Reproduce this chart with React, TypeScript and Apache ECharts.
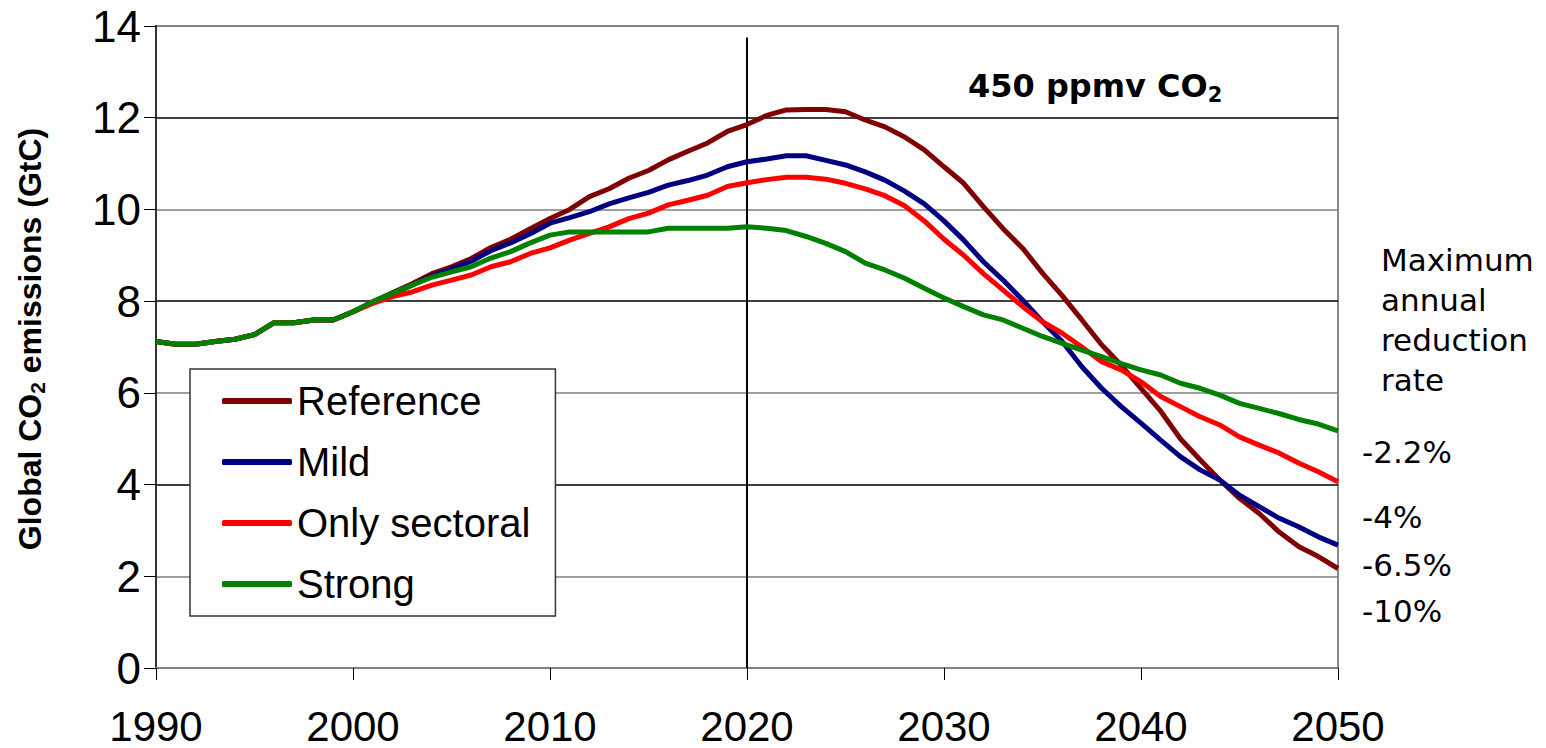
import React, { useEffect, useRef } from "react";
import * as echarts from "echarts";

const years = [
  1990, 1991, 1992, 1993, 1994, 1995, 1996, 1997, 1998, 1999,
  2000, 2001, 2002, 2003, 2004, 2005, 2006, 2007, 2008, 2009,
  2010, 2011, 2012, 2013, 2014, 2015, 2016, 2017, 2018, 2019,
  2020, 2021, 2022, 2023, 2024, 2025, 2026, 2027, 2028, 2029,
  2030, 2031, 2032, 2033, 2034, 2035, 2036, 2037, 2038, 2039,
  2040, 2041, 2042, 2043, 2044, 2045, 2046, 2047, 2048, 2049, 2050,
];

const reference = [
  7.12, 7.06, 7.06, 7.12, 7.17, 7.27, 7.53, 7.53, 7.59, 7.59,
  7.77, 7.98, 8.18, 8.38, 8.6, 8.75, 8.93, 9.17, 9.35, 9.58,
  9.8, 10.0, 10.28, 10.45, 10.68, 10.85, 11.08, 11.27, 11.45, 11.7,
  11.85, 12.05, 12.17, 12.18, 12.18, 12.13, 11.95, 11.8, 11.58, 11.3,
  10.93, 10.57, 10.06, 9.58, 9.15, 8.61, 8.12, 7.59, 7.05, 6.6,
  6.1, 5.6, 5.0, 4.54, 4.1, 3.7, 3.37, 2.97, 2.65, 2.43, 2.17,
];

const mild = [
  7.12, 7.06, 7.06, 7.12, 7.17, 7.27, 7.53, 7.53, 7.59, 7.59,
  7.77, 7.97, 8.17, 8.35, 8.55, 8.7, 8.87, 9.1, 9.27, 9.47,
  9.7, 9.82, 9.95, 10.12, 10.25, 10.37, 10.53, 10.63, 10.75, 10.93,
  11.04, 11.1, 11.17, 11.17, 11.07, 10.97, 10.82, 10.64, 10.4, 10.12,
  9.75, 9.33, 8.86, 8.46, 8.02, 7.55, 7.12, 6.57, 6.1, 5.7,
  5.34, 4.97, 4.61, 4.32, 4.1, 3.77, 3.52, 3.27, 3.08, 2.86, 2.68,
];

const onlySectoral = [
  7.12, 7.06, 7.06, 7.12, 7.17, 7.27, 7.53, 7.53, 7.59, 7.59,
  7.77, 7.95, 8.1, 8.2, 8.35, 8.46, 8.57, 8.75, 8.86, 9.04,
  9.16, 9.33, 9.48, 9.62, 9.8, 9.92, 10.1, 10.2, 10.31, 10.5,
  10.58, 10.65, 10.7, 10.7, 10.66, 10.57, 10.45, 10.3, 10.08, 9.75,
  9.35, 9.0, 8.6, 8.24, 7.88, 7.55, 7.3, 7.0, 6.68, 6.5,
  6.24, 5.92, 5.7, 5.48, 5.3, 5.04, 4.86, 4.69, 4.47, 4.28, 4.06,
];

const strong = [
  7.12, 7.06, 7.06, 7.12, 7.17, 7.27, 7.53, 7.53, 7.59, 7.59,
  7.77, 7.99, 8.17, 8.35, 8.52, 8.64, 8.75, 8.94, 9.08, 9.27,
  9.44, 9.51, 9.51, 9.51, 9.51, 9.51, 9.59, 9.59, 9.59, 9.59,
  9.62, 9.59, 9.54, 9.41, 9.26, 9.08, 8.83, 8.68, 8.5, 8.28,
  8.07, 7.88, 7.7, 7.59, 7.41, 7.23, 7.08, 6.93, 6.79, 6.64,
  6.5, 6.39, 6.21, 6.1, 5.95, 5.77, 5.66, 5.55, 5.42, 5.32, 5.17,
];

const seriesNames = ["Reference", "Mild", "Only sectoral", "Strong"];
const seriesColors = ["#800000", "#000080", "#ff0000", "#008000"];
const seriesValues = [reference, mild, onlySectoral, strong];

const rateTitle = "Maximum\nannual\nreduction\nrate";
const rateLabels = ["-2.2%", "-4%", "-6.5%", "-10%"];
const markYear = 2020;

export default function App() {
  const ref = useRef<HTMLDivElement>(null);

  useEffect(() => {
    if (!ref.current) return;
    const chart = echarts.init(ref.current, null, { renderer: "svg" });

    const series: any[] = seriesNames.map((name, i) => ({
      name,
      type: "line",
      data: years.map((y, k) => [y, seriesValues[i][k]]),
      symbol: "none",
      showSymbol: false,
      lineStyle: { color: seriesColors[i], width: 5 },
      itemStyle: { color: seriesColors[i] },
      z: 3 + i,
    }));
    series[0].markLine = {
      silent: true,
      symbol: "none",
      label: { show: false },
      lineStyle: { color: "#000", width: 2, type: "solid" },
      data: [[{ coord: [markYear, 13.75] }, { coord: [markYear, 0] }]],
      z: 2,
    };

    const rateYs = [452, 517, 565, 611];

    chart.setOption({
      animation: false,
      backgroundColor: "#fff",
      grid: {
        left: 156,
        right: 208,
        top: 26,
        bottom: 80,
        show: true,
        borderColor: "#888",
        borderWidth: 2,
        backgroundColor: "transparent",
      },
      xAxis: {
        type: "value",
        min: 1990,
        max: 2050,
        interval: 10,
        axisLine: { lineStyle: { color: "#808080", width: 2 } },
        axisTick: { show: true, length: 12, lineStyle: { color: "#000", width: 1 } },
        axisLabel: {
          fontFamily: "Liberation Sans",
          fontSize: 42,
          lineHeight: 40,
          color: "#000",
          margin: 38,
          formatter: (v: number) => String(v),
        },
        splitLine: { show: false },
      },
      yAxis: {
        type: "value",
        min: 0,
        max: 14,
        interval: 2,
        axisLine: { show: true, lineStyle: { color: "#333", width: 2 } },
        axisTick: { show: true, length: 12, lineStyle: { color: "#000", width: 1 } },
        axisLabel: {
          fontFamily: "Liberation Sans",
          fontSize: 44,
          color: "#000",
          margin: 15,
        },
        splitLine: {
          show: true,
          lineStyle: { color: ["#000", "#808080"], width: 1.5 },
        },
      },
      legend: {
        data: seriesNames.map((n) => ({ name: n, icon: "roundRect" })),
        orient: "vertical",
        left: 190,
        top: 369,
        padding: [12, 25, 12, 32],
        itemGap: 21,
        itemWidth: 70,
        itemHeight: 6,
        backgroundColor: "#fff",
        borderColor: "#333",
        borderWidth: 1.5,
        borderRadius: 0,
        textStyle: { fontFamily: "Liberation Sans", fontSize: 40, color: "#000" },
      },
      graphic: [
        {
          type: "text",
          x: 30,
          y: 339,
          rotation: Math.PI / 2,
          style: {
            text: "{a|Global CO}{s|2}{a| emissions (GtC)}",
            textAlign: "center",
            textVerticalAlign: "middle",
            rich: {
              a: {
                fontFamily: "Liberation Sans",
                fontWeight: "bold",
                fontSize: 32,
                lineHeight: 36,
                verticalAlign: "middle",
                fill: "#000",
              },
              s: {
                fontFamily: "Liberation Sans",
                fontWeight: "bold",
                fontSize: 21,
                lineHeight: 36,
                verticalAlign: "bottom",
                fill: "#000",
              },
            },
          },
        },
        {
          type: "text",
          x: 968,
          y: 86,
          style: {
            text: "{b|450 ppmv CO}{s|2}",
            textAlign: "left",
            textVerticalAlign: "middle",
            rich: {
              b: {
                fontFamily: "DejaVu Sans",
                fontWeight: "bold",
                fontSize: 32,
                lineHeight: 38,
                verticalAlign: "middle",
                fill: "#000",
              },
              s: {
                fontFamily: "DejaVu Sans",
                fontWeight: "bold",
                fontSize: 21,
                lineHeight: 38,
                verticalAlign: "bottom",
                fill: "#000",
              },
            },
          },
        },
        {
          type: "text",
          x: 1381,
          y: 240,
          style: {
            text: rateTitle,
            fontFamily: "DejaVu Sans",
            fontSize: 31,
            lineHeight: 40,
            fill: "#000",
            textAlign: "left",
            textVerticalAlign: "top",
          },
        },
        ...rateLabels.map((t, i) => ({
          type: "text",
          x: 1362,
          y: rateYs[i],
          style: {
            text: t,
            fontFamily: "DejaVu Sans",
            fontSize: 31,
            fill: "#000",
            textAlign: "left",
            textVerticalAlign: "middle",
          },
        })),
      ],
      series,
    });

    return () => chart.dispose();
  }, []);

  return (
    <div
      ref={ref}
      style={{ position: "fixed", left: 0, top: 0, width: 1546, height: 748 }}
    />
  );
}
